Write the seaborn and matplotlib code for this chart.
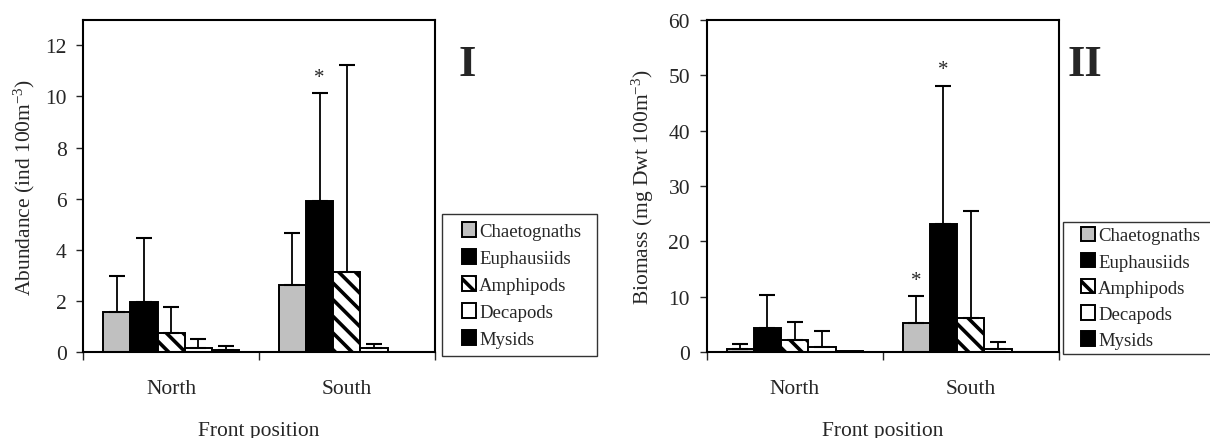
import numpy as np
import pandas as pd
import matplotlib
matplotlib.use("Agg")
import matplotlib.pyplot as plt
from matplotlib.container import BarContainer
from matplotlib.patches import Patch, Rectangle
from matplotlib.legend_handler import HandlerPatch
import seaborn as sns

# ---------------- data ----------------
categories = ["North", "South"]
taxa = ["Chaetognaths", "Euphausiids", "Amphipods", "Decapods", "Mysids"]

abund_north = [1.58, 1.95, 0.74, 0.17, 0.08]
abund_north_err = [1.40, 2.52, 1.05, 0.36, 0.17]
abund_south = [2.62, 5.93, 3.14, 0.15, 0.01]
abund_south_err = [2.04, 4.19, 8.09, 0.19, 0.0]

biom_north = [0.6, 4.3, 2.3, 0.9, 0.15]
biom_north_err = [0.9, 6.1, 3.2, 2.9, 0.0]
biom_south = [5.2, 23.2, 6.2, 0.65, 0.05]
biom_south_err = [4.9, 24.9, 19.2, 1.2, 0.0]

abund_stars = [("South", "Euphausiids", 10.75)]
biom_stars = [("South", "Chaetognaths", 13.0), ("South", "Euphausiids", 51.0)]

fills = ["#c0c0c0", "#000000", "#ffffff", "#ffffff", "#000000"]
hatches = [None, None, "\\\\", None, None]

# ---------------- style ----------------
sns.set_style("white")
plt.rcParams["font.family"] = ["Liberation Serif", "DejaVu Serif"]
plt.rcParams["mathtext.fontset"] = "custom"
plt.rcParams["mathtext.rm"] = "Liberation Serif"
plt.rcParams["mathtext.it"] = "Liberation Serif:italic"
plt.rcParams["hatch.linewidth"] = 2.6
plt.rcParams["hatch.color"] = "black"

W, H = 1210, 439
fig = plt.figure(figsize=(W / 100, H / 100), dpi=100)
ax1 = fig.add_axes([83.3 / W, 1 - 353.3 / H, 351.4 / W, 332.6 / H])
ax2 = fig.add_axes([706.7 / W, 1 - 353.3 / H, 352.0 / W, 332.6 / H])

FS = 15.5
LFS = 13.5


def square_handle(legend, orig_handle, xdescent, ydescent, width, height, fontsize):
    sq = 10.5
    return Rectangle((-xdescent + width - sq, -ydescent + (height - sq) / 2), sq, sq)


def make_df(north, south, nerr, serr):
    rows = []
    for i, t in enumerate(taxa):
        rows.append(dict(pos="North", taxon=t, val=north[i], err=nerr[i]))
        rows.append(dict(pos="South", taxon=t, val=south[i], err=serr[i]))
    return pd.DataFrame(rows)


def draw(ax, df, stars, ylim, yticks, ylabel, legend_box, roman, roman_xy, ypad,
         leg_kw):
    sns.barplot(data=df, x="pos", y="val", hue="taxon", order=categories,
                hue_order=taxa, palette=fills, width=0.774, errorbar=None,
                edgecolor="black", linewidth=1.4, saturation=1, ax=ax, legend=False)
    bars = [c for c in ax.containers if isinstance(c, BarContainer)]
    for k, cont in enumerate(bars):
        for j, p in enumerate(cont.patches):
            p.set_facecolor(fills[k])
            p.set_edgecolor("black")
            if hatches[k]:
                p.set_hatch(hatches[k])
            sub = df[(df.taxon == taxa[k]) & (df.pos == categories[j])].iloc[0]
            if sub.err > 0:
                xc = p.get_x() + p.get_width() / 2
                ax.errorbar([xc], [sub.val], yerr=[[0], [sub.err]], fmt="none",
                            ecolor="black", elinewidth=1.3, capsize=5.6,
                            capthick=1.5, zorder=3)
    for pos, t, yv in stars:
        k = taxa.index(t)
        j = categories.index(pos)
        p = bars[k].patches[j]
        ax.text(p.get_x() + p.get_width() / 2, yv, "*", ha="center", va="center",
                fontsize=15)
    ax.set_ylim(*ylim)
    ax.set_xlim(-0.5, 1.5)
    ax.set_yticks(yticks)
    ax.set_xticks([0, 1])
    ax.set_xticklabels(categories)
    ax.set_xticks([-0.5, 0.5, 1.5], minor=True)
    ax.tick_params(axis="x", which="major", length=0, pad=19, labelsize=FS)
    ax.tick_params(axis="x", which="minor", length=6, width=1, direction="out",
                   bottom=True)
    ax.tick_params(axis="y", length=5, width=1, direction="out", left=True,
                   labelsize=FS, pad=7)
    for s in ax.spines.values():
        s.set_linewidth(1.5)
        s.set_color("black")
    ax.set_xlabel("Front position", fontsize=FS, labelpad=17)
    ax.set_ylabel(ylabel, fontsize=FS, labelpad=ypad)
    hs = [Patch(facecolor=fills[k], edgecolor="black", hatch=hatches[k],
                linewidth=1.4) for k in range(len(taxa))]
    x0, y0, w, h = legend_box
    leg = ax.legend(hs, taxa, loc="upper left",
                    bbox_to_anchor=(x0 / W, 1 - (y0 + h) / H, w / W, h / H),
                    bbox_transform=fig.transFigure, borderaxespad=0,
                    mode="expand", fontsize=LFS, handleheight=0.8,
                    handletextpad=0.15, frameon=True, fancybox=False,
                    shadow=False,
                    handler_map={Patch: HandlerPatch(patch_func=square_handle)},
                    **leg_kw)
    leg.get_frame().set_edgecolor("black")
    leg.get_frame().set_linewidth(1.0)
    fig.text(roman_xy[0] / W, 1 - roman_xy[1] / H, roman, ha="center", va="center",
             fontsize=32, fontweight="bold")


df1 = make_df(abund_north, abund_south, abund_north_err, abund_south_err)
df2 = make_df(biom_north, biom_south, biom_north_err, biom_south_err)

draw(ax1, df1, abund_stars, (0, 13), [0, 2, 4, 6, 8, 10, 12],
     "Abundance (ind 100m$^{\\mathrm{-3}}$)", (442.3, 215, 155, 139),
     "I", (467, 65), 6,
     dict(handlelength=1.38, labelspacing=0.5, borderpad=0.44))
draw(ax2, df2, biom_stars, (0, 60), [0, 10, 20, 30, 40, 50, 60],
     "Biomass (mg Dwt 100m$^{\\mathrm{-3}}$)", (1063.3, 223, 155, 131),
     "II", (1085, 65), 9,
     dict(handlelength=1.45, labelspacing=0.45, borderpad=0.25))

fig.savefig("out.png", dpi=100)
